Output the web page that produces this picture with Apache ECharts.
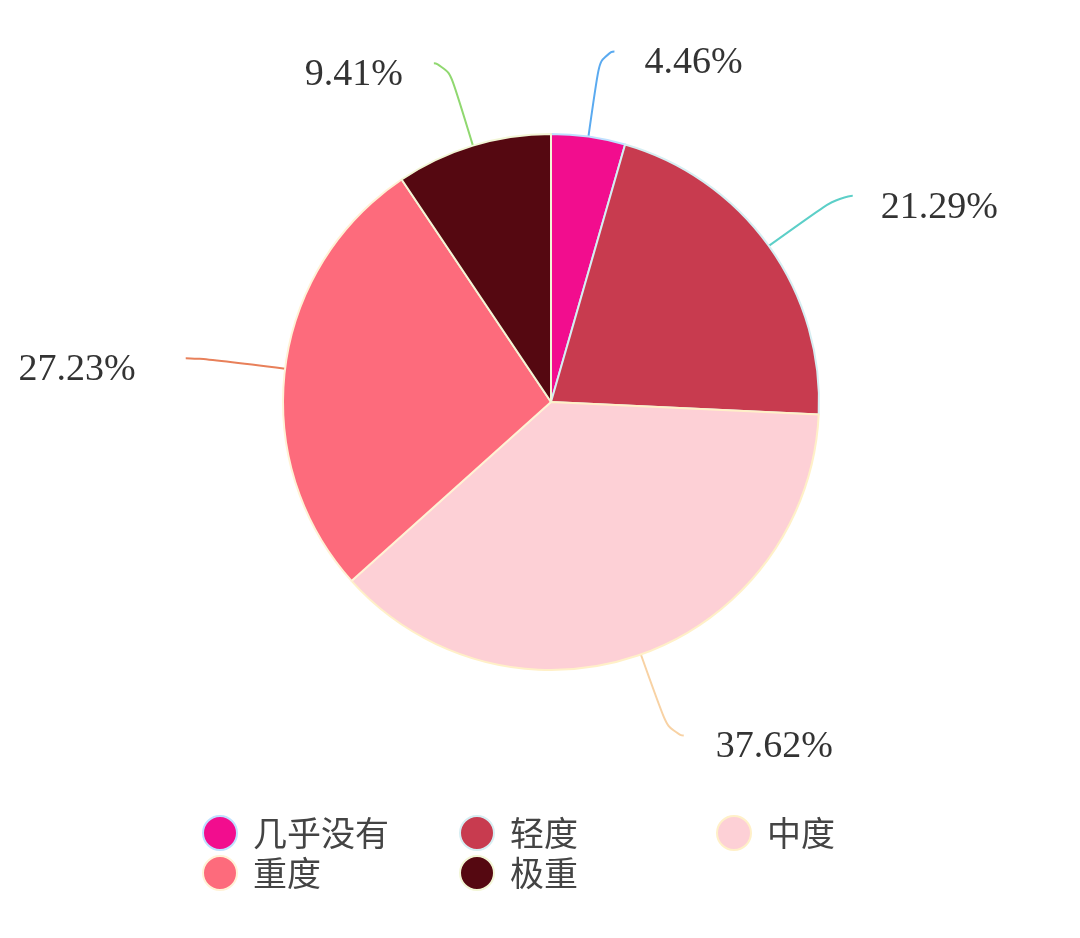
<!DOCTYPE html>
<html>
<head>
<meta charset="utf-8">
<script src="https://cdn.jsdelivr.net/npm/echarts@6/dist/echarts.min.js"></script>
<style>
html,body{margin:0;padding:0;background:#fff;}
#chart{width:1080px;height:938px;}
</style>
</head>
<body>
<div id="chart"></div>
<script>
const categories = ['几乎没有', '轻度', '中度', '重度', '极重'];
const values = [4.46, 21.29, 37.62, 27.23, 9.41];

const sliceColors = ['#f20d8e', '#c83b4f', '#fdd0d6', '#fd6b7c', '#550811'];
const borderColors = ['#bfe0ff', '#d6eef2', '#fff0c8', '#fff2d6', '#f2f6d6'];
const lineColors = ['#5aaaf0', '#5ccfc8', '#f8d2a4', '#e8805a', '#90d870'];
const labelGaps = [30, 28, 32, 50, 31];

const data = categories.map((name, i) => ({
  name: name,
  value: values[i],
  itemStyle: { color: sliceColors[i], borderColor: borderColors[i] },
  label: { distanceToLabelLine: labelGaps[i] },
  labelLine: { lineStyle: { color: lineColors[i] } }
}));

const chart = echarts.init(document.getElementById('chart'));
chart.setOption({
  backgroundColor: '#ffffff',
  animation: false,
  legend: {
    data: categories,
    orient: 'horizontal',
    left: 197,
    top: 810,
    width: 780,
    itemWidth: 34,
    itemHeight: 34,
    itemGap: 4,
    icon: 'circle',
    textStyle: {
      fontFamily: 'Noto Sans CJK SC',
      fontSize: 34,
      lineHeight: 36,
      color: '#444',
      width: 202,
      padding: [0, 0, 0, 11]
    }
  },
  series: [{
    type: 'pie',
    center: [551, 402],
    radius: 268,
    startAngle: 90,
    clockwise: true,
    avoidLabelOverlap: false,
    itemStyle: { borderWidth: 2 },
    label: {
      show: true,
      position: 'outside',
      formatter: '{s| }\n{v|{c}%}',
      fontFamily: 'Liberation Serif',
      fontSize: 38,
      color: '#333',
      rich: {
        s: { fontSize: 10, lineHeight: 24 },
        v: { fontFamily: 'Liberation Serif', fontSize: 38, lineHeight: 38, color: '#333' }
      }
    },
    labelLine: {
      show: true,
      length: 86,
      length2: 14,
      smooth: 0.8,
      lineStyle: { width: 2 }
    },
    data: data
  }]
});
</script>
</body>
</html>
